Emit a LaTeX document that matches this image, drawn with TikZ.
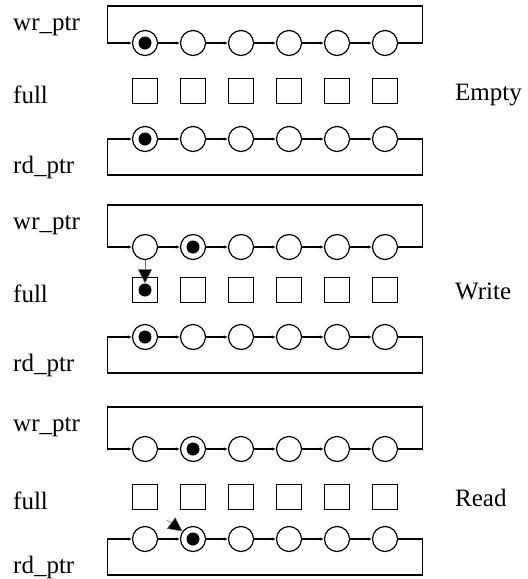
\documentclass[tikz,border=0pt]{standalone}
\usepackage{fontspec}
\setmainfont{Liberation Serif}
\usetikzlibrary{arrows.meta}
\tikzstyle{link} = [line width=1.1pt, -{Latex[length=4pt,width=3.5pt]}]
\tikzstyle{move} = [line width=0.5pt, draw=black!60, -{Triangle[length=14pt,width=14pt,fill=black]}]
\tikzstyle{slot} = [circle, minimum size=25pt, inner sep=0pt, draw=black, line width=1.2pt, fill=white]
\tikzstyle{cell} = [rectangle, minimum size=25pt, inner sep=0pt, draw=black, line width=1.2pt]
\tikzstyle{token} = [circle, minimum size=13pt, inner sep=0pt, fill=black]
\tikzstyle{sig} = [anchor=base west, inner sep=0pt, font=\fontsize{25}{30}\selectfont]

\begin{document}
\begin{tikzpicture}[x=1pt,y=-1pt]
	\useasboundingbox (0,0) rectangle (528,579);
	\foreach \s/\yw/\yf/\yr/\h/\mode in {1/43/91/139/37/Empty, 2/247/290/337/42/Write, 3/449/497/539/42/Read} {
		% pointer rings and full flags
		\foreach \i in {1,...,6} {
			\node (w\s-\i) [slot] at (97+48*\i,\yw) {};
			\node (f\s-\i) [cell] at (97+48*\i,\yf) {};
			\node (r\s-\i) [slot] at (97+48*\i,\yr) {};
		}
		\foreach \i [count=\j from 2] in {1,...,5} {
			\draw[link] (w\s-\i) -- (w\s-\j);
			\draw[link] (r\s-\i) -- (r\s-\j);
		}
		\draw[link] (w\s-6.east) -- ++(24,0) -- ++(0,-\h) -| ([xshift=-24pt]w\s-1.west) -- (w\s-1);
		\draw[link] (r\s-6.east) -- ++(24,0) -- ++(0,36) -| ([xshift=-24pt]r\s-1.west) -- (r\s-1);
		% names
		\node (wl\s) [sig] at (13,\yw-\h+24) {wr\_ptr};
		\node (fl\s) [sig] at (13,\yf+12) {full};
		\node (rl\s) [sig] at (13,\yr+34) {rd\_ptr};
		\node (ml\s) [sig] at (455,\yf+9) {\mode};
	}
	% Empty
	\node (tw1) [token] at (w1-1) {};
	\node (tr1) [token] at (r1-1) {};
	% Write
	\node (tw2) [token] at (w2-2) {};
	\node (tr2) [token] at (r2-1) {};
	\node (d2) [token] at (f2-1) {};
	\draw[move] (w2-1) -- (d2);
	% Read
	\node (tw3) [token] at (w3-2) {};
	\node (tr3) [token] at (r3-2) {};
	\coordinate (rs) at (167,520);
	\draw[move] (rs) -- (r3-2);
\end{tikzpicture}
\end{document}
